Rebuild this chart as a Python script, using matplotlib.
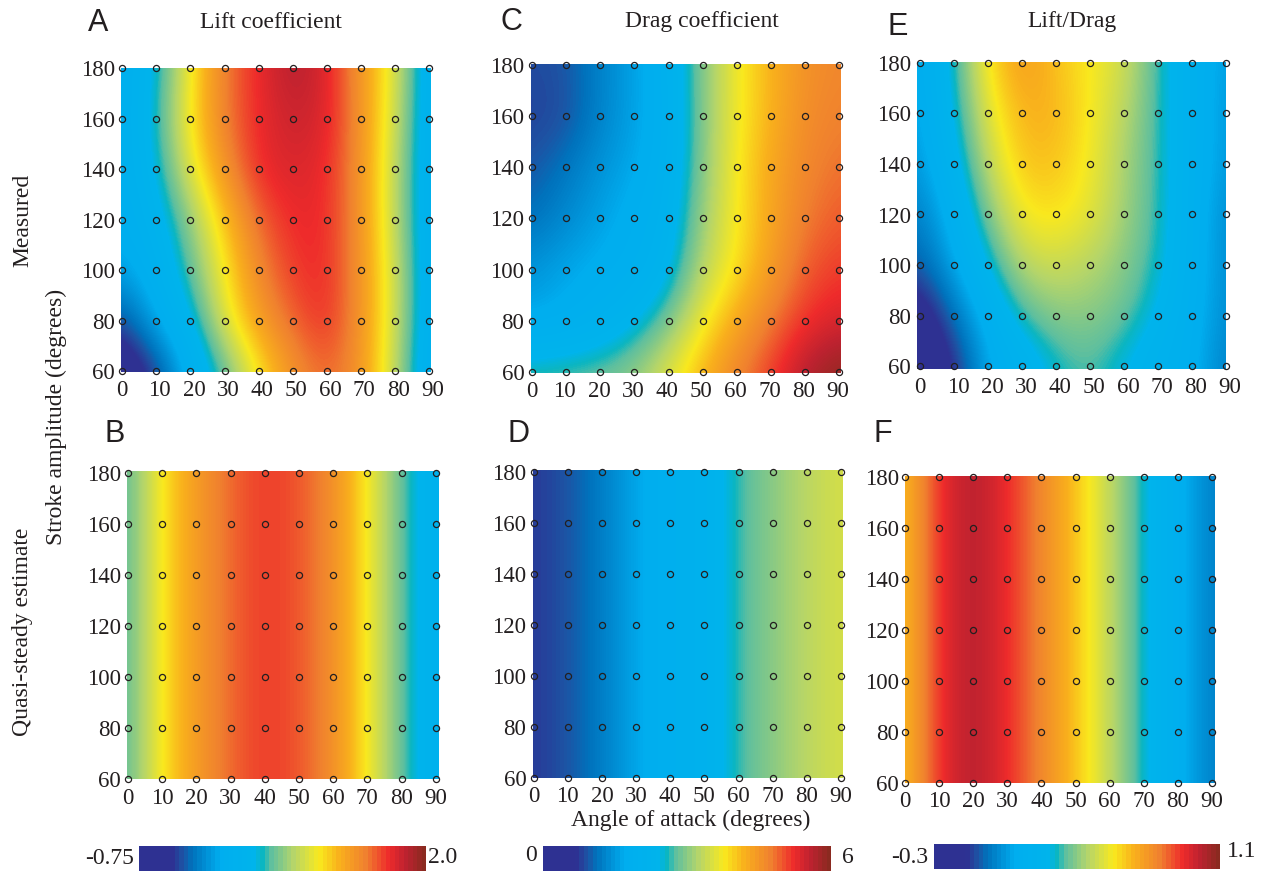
import numpy as np
import matplotlib
matplotlib.use('Agg')
from matplotlib import pyplot as plt
from matplotlib.cm import ScalarMappable
from matplotlib.colors import LinearSegmentedColormap, Normalize
from matplotlib.transforms import ScaledTranslation

W, H = 1261, 872

# Grid of the measurements
angles = [0, 10, 20, 30, 40, 50, 60, 70, 80, 90]
strokes = [60, 80, 100, 120, 140, 160, 180]

# Values, rows go from stroke 60 up to 180
lift_measured = [
    [-0.70, -0.42, 0.08, 0.49, 0.98, 1.34, 1.51, 1.34, 0.79, 0.08],
    [-0.37, 0.02, 0.30, 0.90, 1.29, 1.51, 1.67, 1.34, 0.85, 0.13],
    [-0.03, 0.13, 0.52, 0.98, 1.40, 1.62, 1.67, 1.34, 0.85, 0.13],
    [0.05, 0.24, 0.63, 1.12, 1.51, 1.67, 1.67, 1.34, 0.79, 0.13],
    [0.08, 0.35, 0.90, 1.34, 1.67, 1.73, 1.67, 1.34, 0.79, 0.13],
    [0.08, 0.41, 1.01, 1.45, 1.67, 1.78, 1.73, 1.34, 0.85, 0.13],
    [0.08, 0.35, 0.96, 1.45, 1.67, 1.86, 1.73, 1.31, 0.90, 0.13],
]
drag_measured = [
    [2.76, 2.82, 2.88, 3.06, 3.60, 4.20, 4.74, 5.16, 5.70, 6.00],
    [1.62, 1.74, 1.98, 2.34, 2.88, 3.72, 4.32, 4.80, 5.22, 5.40],
    [1.44, 1.62, 1.74, 1.86, 2.28, 3.30, 3.84, 4.44, 4.98, 5.16],
    [1.08, 1.32, 1.56, 1.80, 2.10, 3.12, 3.78, 4.32, 4.80, 4.98],
    [0.90, 1.14, 1.44, 1.62, 1.98, 3.00, 3.78, 4.32, 4.68, 4.86],
    [0.78, 0.84, 1.26, 1.56, 1.92, 3.00, 3.72, 4.20, 4.62, 4.74],
    [0.84, 0.90, 1.26, 1.56, 1.98, 3.00, 3.72, 4.20, 4.56, 4.68],
]
ratio_measured = [
    [-0.29, -0.17, 0.08, 0.17, 0.29, 0.34, 0.26, 0.18, 0.12, -0.02],
    [-0.24, -0.05, 0.13, 0.32, 0.40, 0.40, 0.36, 0.25, 0.13, 0.01],
    [-0.08, 0.07, 0.26, 0.47, 0.50, 0.46, 0.40, 0.30, 0.15, 0.01],
    [-0.02, 0.13, 0.38, 0.58, 0.60, 0.55, 0.43, 0.32, 0.15, 0.01],
    [0.04, 0.20, 0.48, 0.65, 0.65, 0.57, 0.44, 0.32, 0.16, 0.04],
    [0.06, 0.26, 0.54, 0.68, 0.68, 0.58, 0.47, 0.32, 0.16, 0.04],
    [0.08, 0.29, 0.60, 0.74, 0.65, 0.58, 0.51, 0.32, 0.16, 0.05],
]

# The quasi-steady estimate does not depend on stroke amplitude
lift_quasi = [0.49, 1.01, 1.29, 1.50, 1.62, 1.55, 1.37, 0.98, 0.52, 0.16]
drag_quasi = [0.72, 0.90, 1.20, 1.62, 1.92, 2.04, 2.70, 3.00, 3.30, 3.50]
ratio_quasi = [0.64, 0.93, 1.03, 0.93, 0.79, 0.65, 0.48, 0.29, 0.12, -0.02]

lift_range = [-0.75, 2.0]
drag_range = [0, 6]
ratio_range = [-0.3, 1.1]

# Colour scale: 64 steps on the bars like the original, finer in the panels
cmap_stops = [(0.00, '#2e3192'), (0.11, '#2e3192'), (0.15, '#1c55a5'), (0.18, '#0072bc'), (0.28, '#00aeef'),
              (0.40, '#00b4ec'), (0.43, '#0cb6c0'), (0.457, '#5cbfa0'), (0.54, '#b5d56a'), (0.63, '#f9e91e'),
              (0.70, '#f9b11c'), (0.795, '#f0802f'), (0.875, '#ee2b2b'), (0.934, '#be2230'),
              (1.00, '#8b2a20')]
bar_cmap = LinearSegmentedColormap.from_list('wing', cmap_stops, 64)
panel_cmap = LinearSegmentedColormap.from_list('wing_fine', cmap_stops, 256)

plt.rcParams['font.family'] = ['Liberation Serif', 'DejaVu Serif']
ink = '#231f20'
fig = plt.figure(figsize=(W / 100, H / 100), dpi=100)


def pixel_axes(left, top, right, bottom):
    return fig.add_axes([left / W, 1 - bottom / H, (right - left) / W, (bottom - top) / H])


def put_text(x, y, s, size=17, **kw):
    fig.text(x / W, 1 - y / H, s, size=size, color=ink, ha=kw.pop('ha', 'center'), va=kw.pop('va', 'center'), **kw)


def draw_panel(values, vrange, box, dots, xshift):
    # box: image in pixels (left, top, right, bottom), dots: pixels of first and last point
    ax = pixel_axes(*box)
    x_scale = 90 / (dots[2] - dots[0])
    y_scale = 120 / (dots[3] - dots[1])
    ax.imshow(np.array(values), origin='lower', extent=[-5, 95, 50, 190], cmap=panel_cmap, vmin=vrange[0],
              vmax=vrange[1], interpolation='bicubic', interpolation_stage='data', aspect='auto')
    ax.set_xlim((box[0] - dots[0]) * x_scale, (box[2] - dots[0]) * x_scale)
    ax.set_ylim((dots[3] - box[3]) * y_scale + 60, (dots[3] - box[1]) * y_scale + 60)

    xx, yy = np.meshgrid(angles, strokes)
    ax.plot(xx.ravel(), yy.ravel(), 'o', mfc='none', mec=ink, ms=4.4, mew=0.9, clip_on=False)

    ax.set_xticks(angles)
    ax.set_yticks(strokes)
    ax.tick_params(length=0, labelsize=16.5, labelcolor=ink, pad=6)
    ax.tick_params(axis='y', pad=4.5)
    for spine in ax.spines.values():
        spine.set_visible(False)
    offset = ScaledTranslation(xshift / 72, 0, fig.dpi_scale_trans)
    for lbl in ax.get_xticklabels()[1:]:
        lbl.set_transform(lbl.get_transform() + offset)
    return ax


def draw_colorbar(vrange, box):
    cax = pixel_axes(*box)
    cb = fig.colorbar(ScalarMappable(Normalize(vrange[0], vrange[1]), bar_cmap), cax=cax, orientation='horizontal')
    cb.set_ticks([])
    cb.outline.set_visible(False)


draw_panel(lift_measured, lift_range, (121, 68, 431, 372), (122.3, 66.7, 429, 371), 2.5)
draw_panel(np.tile(lift_quasi, (7, 1)), lift_range, (127, 470.7, 439, 779.3), (128, 472.7, 435.7, 778.7), 0)
draw_panel(drag_measured, drag_range, (530.7, 64, 840.7, 372.7), (532, 64.7, 839.3, 372.3), -1)
draw_panel(np.tile(drag_quasi, (7, 1)), drag_range, (532.7, 470, 842.7, 777.7), (533.7, 472.3, 841, 779.3), 0)
draw_panel(ratio_measured, ratio_range, (917.3, 62.3, 1225.7, 369), (920, 62.7, 1226, 366.3), 3)
draw_panel(np.tile(ratio_quasi, (7, 1)), ratio_range, (905, 475.7, 1215, 782.7), (905, 477.3, 1212, 784.7), 0)

draw_colorbar(lift_range, (139, 846, 426, 871))
draw_colorbar(drag_range, (543, 846, 831, 871))
draw_colorbar(ratio_range, (934, 844, 1220, 869))

# Colour bar ends
put_text(134, 858, '-0.75', 17, ha='right')
put_text(428, 857, '2.0', 17, ha='left')
put_text(537, 855, '0', 17, ha='right')
put_text(842, 857, '6', 17, ha='left')
put_text(928, 857, '-0.3', 17, ha='right')
put_text(1227, 851, '1.1', 17, ha='left')

# Titles and axis names
put_text(271, 22, 'Lift coefficient')
put_text(702, 22, 'Drag coefficient')
put_text(1072, 22, 'Lift/Drag')
put_text(691, 820, 'Angle of attack (degrees)')
put_text(23, 220, 'Measured', rotation=90)
put_text(23, 632, 'Quasi-steady estimate', rotation=90)
put_text(56, 417, 'Stroke amplitude (degrees)', rotation=90)

# Panel letters
for letter, x, y in [('A', 98, 23), ('B', 115, 434), ('C', 511, 22), ('D', 519, 434), ('E', 898, 27), ('F', 883, 434)]:
    put_text(x, y, letter, 22, family='Liberation Sans')

fig.savefig('out.png', dpi=100)
